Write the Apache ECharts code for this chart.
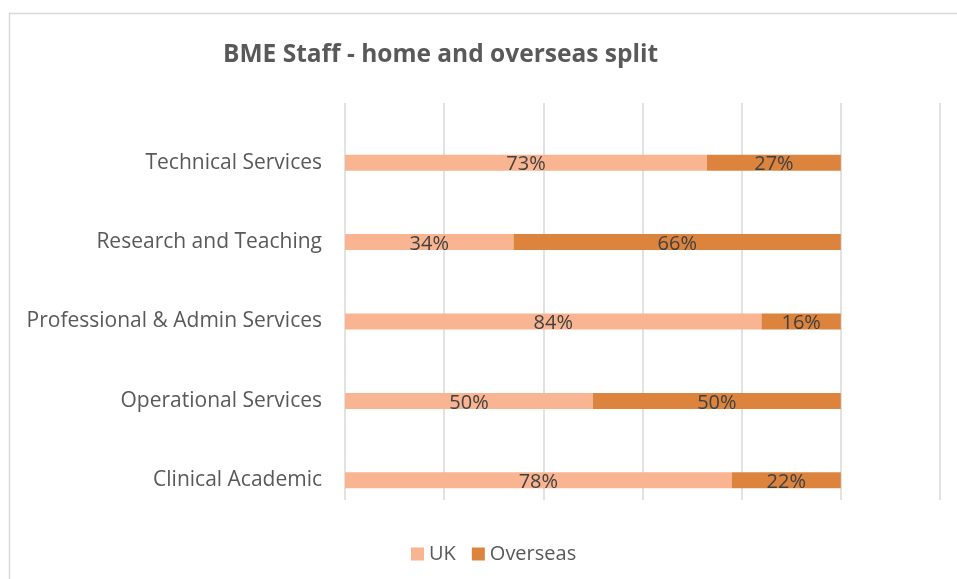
<!DOCTYPE html>
<html>
<head>
<meta charset="utf-8">
<script src="https://cdn.jsdelivr.net/npm/echarts@6/dist/echarts.min.js"></script>
<style>
  html, body { margin: 0; padding: 0; background: #fff; }
  #chart { width: 957px; height: 579px; }
</style>
</head>
<body>
<div id="chart"></div>
<script>
// Staff groups, bottom to top as drawn on the category axis
const categories = ['Clinical Academic', 'Operational Services', 'Professional & Admin Services', 'Research and Teaching', 'Technical Services'];
// Share of staff (%) per group
const ukValues = [78, 50, 84, 34, 73];
const overseasValues = [22, 50, 16, 66, 27];
const seriesNames = ['UK', 'Overseas'];

const textFont = '"Open Sans", "Noto Sans", sans-serif';
const labelColor = '#404040';

const chart = echarts.init(document.getElementById('chart'));

const dataLabel = {
  show: true,
  position: 'inside',
  color: labelColor,
  fontSize: 20,
  fontFamily: textFont,
  offset: [0, 2],
  formatter: p => p.value + '%'
};

chart.setOption({
  animation: false,
  title: {
    text: 'BME Staff - home and overseas split',
    left: 218,
    top: 38,
    textStyle: { color: '#595959', fontSize: 24.5, fontWeight: 'bold', fontFamily: textFont }
  },
  legend: {
    data: seriesNames,
    top: 539,
    left: 406,
    itemWidth: 13,
    itemHeight: 13,
    itemGap: 16,
    icon: 'rect',
    textStyle: { color: '#595959', fontSize: 20, fontFamily: textFont }
  },
  graphic: [{
    type: 'rect',
    shape: { x: 9.5, y: 13.5, width: 1200, height: 1200 },
    style: { fill: 'none', stroke: '#d9d9d9', lineWidth: 1.5 },
    silent: true,
    z: -10
  }],
  grid: [
    // gridline frame
    { left: 345, width: 595, top: 103, height: 397 },
    // bars
    { left: 345, width: 595, top: 123, height: 397 }
  ],
  xAxis: [
    {
      gridIndex: 0, type: 'value', min: 0, max: 120, interval: 20,
      axisLabel: { show: false }, axisLine: { show: false }, axisTick: { show: false },
      splitLine: { show: true, lineStyle: { color: '#d9d9d9', width: 1.5 } }
    },
    {
      gridIndex: 1, type: 'value', min: 0, max: 120, interval: 20,
      axisLabel: { show: false }, axisLine: { show: false }, axisTick: { show: false },
      splitLine: { show: false }
    }
  ],
  yAxis: [
    {
      gridIndex: 0, type: 'category', data: categories,
      axisLabel: { show: false }, axisLine: { show: false }, axisTick: { show: false }
    },
    {
      gridIndex: 1, type: 'category', data: categories,
      axisLine: { show: false }, axisTick: { show: false },
      axisLabel: { color: '#595959', fontSize: 21, fontFamily: textFont, margin: 23, padding: [4, 0, 0, 0] }
    }
  ],
  series: [
    {
      name: seriesNames[0], type: 'bar', stack: 'share', xAxisIndex: 1, yAxisIndex: 1,
      data: ukValues, barWidth: 16,
      itemStyle: { color: '#F9B591' },
      label: dataLabel
    },
    {
      name: seriesNames[1], type: 'bar', stack: 'share', xAxisIndex: 1, yAxisIndex: 1,
      data: overseasValues, barWidth: 16,
      itemStyle: { color: '#DC843E' },
      label: dataLabel
    }
  ]
});
</script>
</body>
</html>
